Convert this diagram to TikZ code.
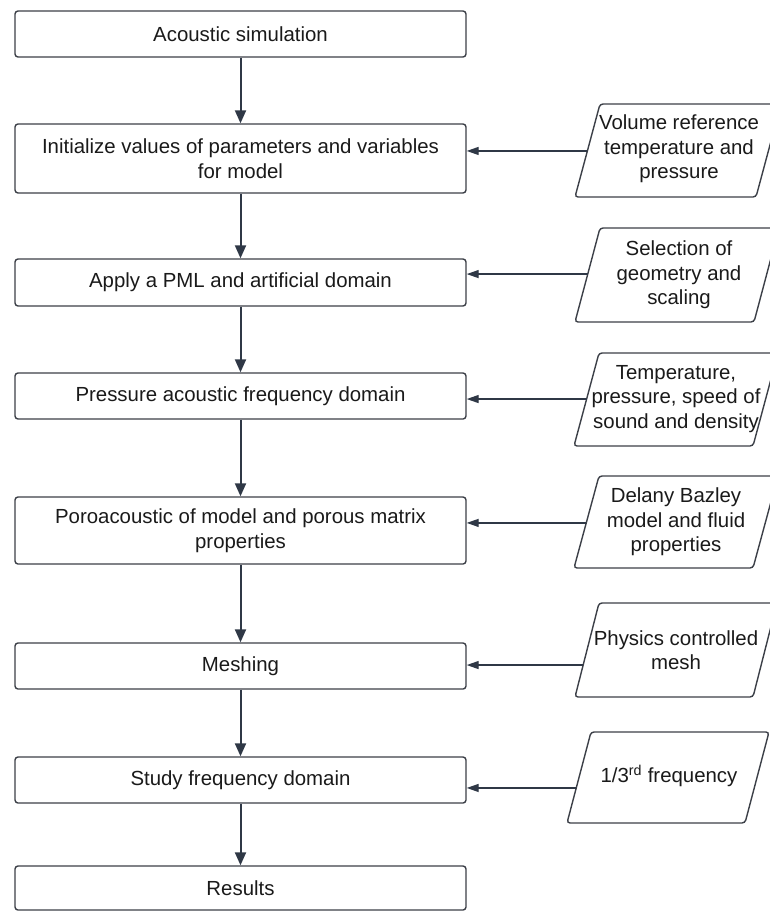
\documentclass[tikz,border=0pt]{standalone}
\usepackage{fontspec}
\setmainfont{Liberation Sans}
\usetikzlibrary{arrows.meta,calc}
\definecolor{boxc}{HTML}{3C4048}
\definecolor{arrc}{HTML}{2F3846}
\definecolor{txtc}{HTML}{1A1A1A}
\begin{document}
\begin{tikzpicture}[x=1pt,y=-1pt,
  txt/.style={font=\fontsize{20.4}{25}\selectfont, text=txtc, align=center, inner sep=0pt},
  box/.style={txt, draw=boxc, line width=1.4pt, rounded corners=3pt, minimum width=451pt, fill=white},
  ptext/.style={txt, font=\fontsize{20.4}{24.5}\selectfont},
  parabox/.style={draw=boxc, line width=1.4pt, rounded corners=3pt, fill=white},
  varr/.style={draw=arrc, line width=2pt, -{Triangle[length=13pt,width=11pt]}},
  harr/.style={draw=arrc, line width=1.3pt, -{Triangle[length=12pt,width=8pt]}},
]
\clip (0,0) rectangle (770,911);
\fill[white] (0,0) rectangle (770,911);

% main column
\node[box, minimum height=46pt] (b1) at (240.5,34) {Acoustic simulation};
\node[box, minimum height=69pt] (b2) at (240.5,158.5) {Initialize values of parameters and variables\\for model};
\node[box, minimum height=47pt] (b3) at (240.5,282.5) {Apply a PML and artificial domain};
\node[box, minimum height=46pt] (b4) at (240.5,396) {Pressure acoustic frequency domain};
\node[box, minimum height=67pt] (b5) at (240.5,530.5) {Poroacoustic of model and porous matrix\\properties};
\node[box, minimum height=46pt] (b6) at (240.5,666) {Meshing};
\node[box, minimum height=46pt] (b7) at (240.5,780) {Study frequency domain};
\node[box, minimum height=44pt] (b8) at (240.5,888) {Results};

% input parallelograms
\draw[parabox] (575,197) coordinate (p1-bl) -- (756,197) -- (781,104) -- (600,104) coordinate (p1-tl) -- cycle;
\draw[parabox] (575,322) coordinate (p2-bl) -- (754,322) -- (779,228) -- (600,228) coordinate (p2-tl) -- cycle;
\draw[parabox] (574,446) coordinate (p3-bl) -- (753,446) -- (778,353) -- (599,353) coordinate (p3-tl) -- cycle;
\draw[parabox] (574,568) coordinate (p4-bl) -- (753,568) -- (778,476) -- (599,476) coordinate (p4-tl) -- cycle;
\draw[parabox] (575,697) coordinate (p5-bl) -- (753,697) -- (777,603) -- (599,603) coordinate (p5-tl) -- cycle;
\draw[parabox] (567,823) coordinate (p6-bl) -- (745,823) -- (769,732) -- (591,732) coordinate (p6-tl) -- cycle;

\node[ptext] (p1) at (679,149) {Volume reference\\temperature and\\pressure};
\node[ptext] (p2) at (679,275) {Selection of\\geometry and\\scaling};
\node[ptext] (p3) at (676,399) {Temperature,\\pressure, speed of\\sound and density};
\node[ptext] (p4) at (676,522) {Delany Bazley\\model and fluid\\properties};
\node[ptext] (p5) at (676,650) {Physics controlled\\mesh};
\node[ptext] (p6) at (669,776) {1/3\textsuperscript{rd} frequency};

% vertical flow
\draw[varr] (b1) -- (b2);
\draw[varr] (b2) -- (b3);
\draw[varr] (b3) -- (b4);
\draw[varr] (b4) -- (b5);
\draw[varr] (b5) -- (b6);
\draw[varr] (b6) -- (b7);
\draw[varr] (b7) -- (b8);

% horizontal inputs
\draw[harr] ($(p1-bl)!0.495!(p1-tl)$) coordinate (s1) -- (s1 -| b2.east);
\draw[harr] ($(p2-bl)!0.51!(p2-tl)$) coordinate (s2) -- (s2 -| b3.east);
\draw[harr] ($(p3-bl)!0.505!(p3-tl)$) coordinate (s3) -- (s3 -| b4.east);
\draw[harr] ($(p4-bl)!0.49!(p4-tl)$) coordinate (s4) -- (s4 -| b5.east);
\draw[harr] ($(p5-bl)!0.34!(p5-tl)$) coordinate (s5) -- (s5 -| b6.east);
\draw[harr] ($(p6-bl)!0.385!(p6-tl)$) coordinate (s6) -- (s6 -| b7.east);
\end{tikzpicture}
\end{document}
